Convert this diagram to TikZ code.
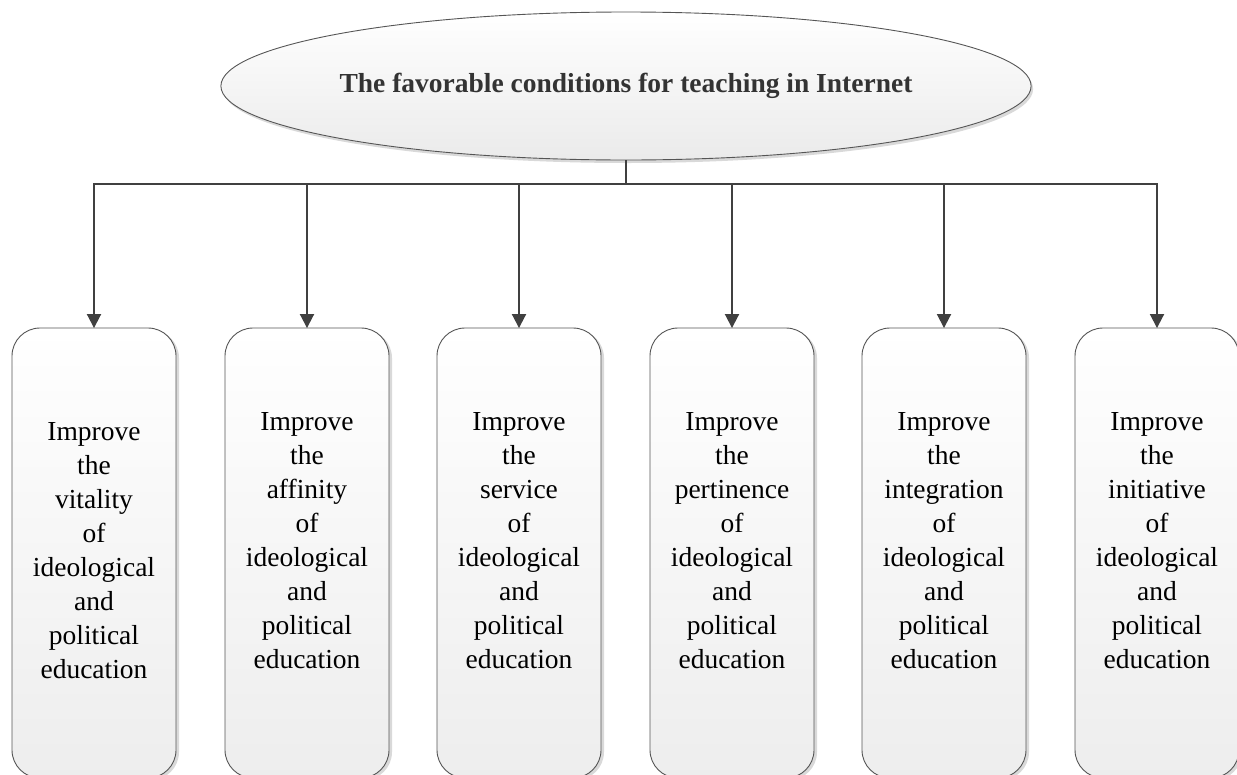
\documentclass[tikz,border=0pt]{standalone}
\usepackage{fontspec}
\setmainfont{Liberation Serif}
\usetikzlibrary{arrows.meta,shapes.geometric,shadows}
\definecolor{linegray}{HTML}{404040}
\definecolor{edgegray}{HTML}{555555}
\definecolor{titlegray}{HTML}{333333}
\tikzset{
  rootnode/.style={ellipse, draw=edgegray, line width=0.9pt, minimum width=800pt, minimum height=148pt, inner sep=0pt,
    top color=white, bottom color=black!8,
    drop shadow={shadow xshift=2pt, shadow yshift=-3pt, fill=black!25, opacity=0.6},
    font=\bfseries\fontsize{27.5}{33}\selectfont, text=titlegray},
  itembox/.style={rectangle, rounded corners=28pt, draw=edgegray, line width=0.9pt, minimum width=164pt, minimum height=450pt, inner sep=0pt,
    top color=white, bottom color=black!7,
    drop shadow={shadow xshift=3pt, shadow yshift=-2pt, fill=black!25, opacity=0.6}},
  itemtext/.style={align=center, inner sep=0pt, anchor=north, font=\fontsize{27.5}{34.1}\selectfont},
  conn/.style={draw=linegray, line width=1.9pt},
  arr/.style={conn, -{Triangle[width=14pt,length=14pt]}, shorten >=-0.5pt},
}
\begin{document}
\begin{tikzpicture}[x=1pt,y=-1pt]
\useasboundingbox (0,0) rectangle (1237,774);
\node[rootnode] (root) at (626,86) {The favorable conditions for teaching in Internet};
\coordinate (j) at (626,184);
\node[itembox] (b1) at (94,553) {};
\node[itembox] (b2) at (307,553) {};
\node[itembox] (b3) at (519,553) {};
\node[itembox] (b4) at (732,553) {};
\node[itembox] (b5) at (944,553) {};
\node[itembox] (b6) at (1157,553) {};
\node[itemtext] (t1) at (94,422) {Improve\\the\\vitality\\of\\ideological\\and\\political\\education};
\node[itemtext] (t2) at (307,412) {Improve\\the\\affinity\\of\\ideological\\and\\political\\education};
\node[itemtext] (t3) at (519,412) {Improve\\the\\service\\of\\ideological\\and\\political\\education};
\node[itemtext] (t4) at (732,412) {Improve\\the\\pertinence\\of\\ideological\\and\\political\\education};
\node[itemtext] (t5) at (944,412) {Improve\\the\\integration\\of\\ideological\\and\\political\\education};
\node[itemtext] (t6) at (1157,412) {Improve\\the\\initiative\\of\\ideological\\and\\political\\education};
\draw[conn] (root.south) -- (j);
\foreach \b in {b1,b2,b3,b4,b5,b6}{
  \draw[arr] (j) -| (\b.north);
}
\end{tikzpicture}
\end{document}
